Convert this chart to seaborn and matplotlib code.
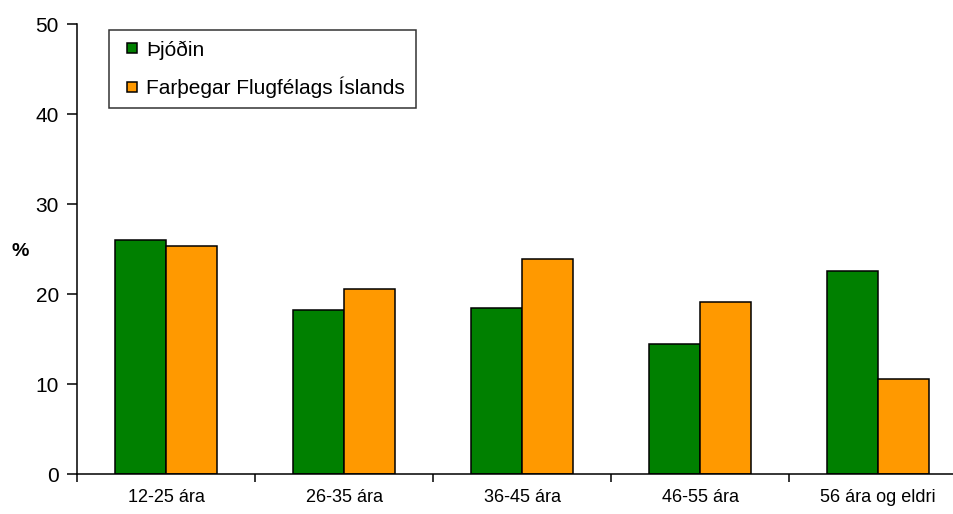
import matplotlib
matplotlib.use("Agg")
import matplotlib.pyplot as plt
import seaborn as sns
import pandas as pd
from matplotlib.lines import Line2D

# Age groups and share (%) of each population
categories = ["12-25 ára", "26-35 ára", "36-45 ára", "46-55 ára", "56 ára og eldri"]
series_names = ["Þjóðin", "Farþegar Flugfélags Íslands"]
thjodin = [26.0, 18.2, 18.4, 14.4, 22.6]
farthegar = [25.3, 20.6, 23.9, 19.1, 10.6]
y_ticks = [0, 10, 20, 30, 40, 50]

colors = ["#008000", "#FF9900"]

df = pd.DataFrame({
    "aldur": categories * 2,
    "hlutfall": thjodin + farthegar,
    "hopur": [series_names[0]] * len(categories) + [series_names[1]] * len(categories),
})

sns.set_theme(style="white")
plt.rcParams["font.family"] = ["Liberation Sans", "DejaVu Sans"]
plt.rcParams["text.color"] = "black"
plt.rcParams["xtick.color"] = "black"
plt.rcParams["ytick.color"] = "black"
plt.rcParams["axes.labelcolor"] = "black"

fig = plt.figure(figsize=(9.54, 5.14), dpi=100)
ax = fig.add_axes([77 / 954, 40 / 514, 890 / 954, 450 / 514])

sns.barplot(data=df, x="aldur", y="hlutfall", hue="hopur", order=categories,
            hue_order=series_names, palette=colors, width=0.573,
            edgecolor="black", linewidth=1.1, saturation=1, ax=ax, legend=False)

ax.set_xlim(-0.5, len(categories) - 0.5)
ax.set_ylim(0, 50)
ax.set_yticks(y_ticks)
ax.set_yticklabels([str(t) for t in y_ticks], fontsize=15)
ax.set_xlabel("")
ax.set_ylabel("")

for side in ["top", "right"]:
    ax.spines[side].set_visible(False)
for side in ["left", "bottom"]:
    ax.spines[side].set_color("black")
    ax.spines[side].set_linewidth(1.1)

# category labels centred, tick marks at the group boundaries
ax.set_xticks(range(len(categories)))
ax.set_xticklabels(categories, fontsize=13)
ax.set_xticks([i - 0.5 for i in range(len(categories) + 1)], minor=True)
ax.tick_params(axis="x", which="major", length=0, pad=11, colors="black")
ax.tick_params(axis="x", which="minor", length=6, width=1.1, direction="out",
               bottom=True, color="black")
ax.tick_params(axis="y", length=7, width=1.1, direction="out", left=True,
               pad=6, colors="black")

fig.text(20 / 954, 1 - 251 / 514, "%", fontsize=14, fontweight="bold",
         ha="center", va="center", color="black")

# small square swatches inside a plain black frame
handles = [Line2D([], [], linestyle="none", marker="s", markersize=7.2,
                  markerfacecolor=c, markeredgecolor="black",
                  markeredgewidth=1.1) for c in colors]
leg = ax.legend(handles, series_names, loc="upper left",
                bbox_to_anchor=(109 / 954, 1 - 30 / 514),
                bbox_transform=fig.transFigure, fontsize=15, frameon=True,
                fancybox=False, handlelength=1.2, handletextpad=0.1,
                labelspacing=0.8, borderpad=0.5, borderaxespad=0)
leg.get_frame().set_edgecolor("black")
leg.get_frame().set_linewidth(1.1)
for t in leg.get_texts():
    t.set_color("black")

fig.savefig("out.png", dpi=100)
